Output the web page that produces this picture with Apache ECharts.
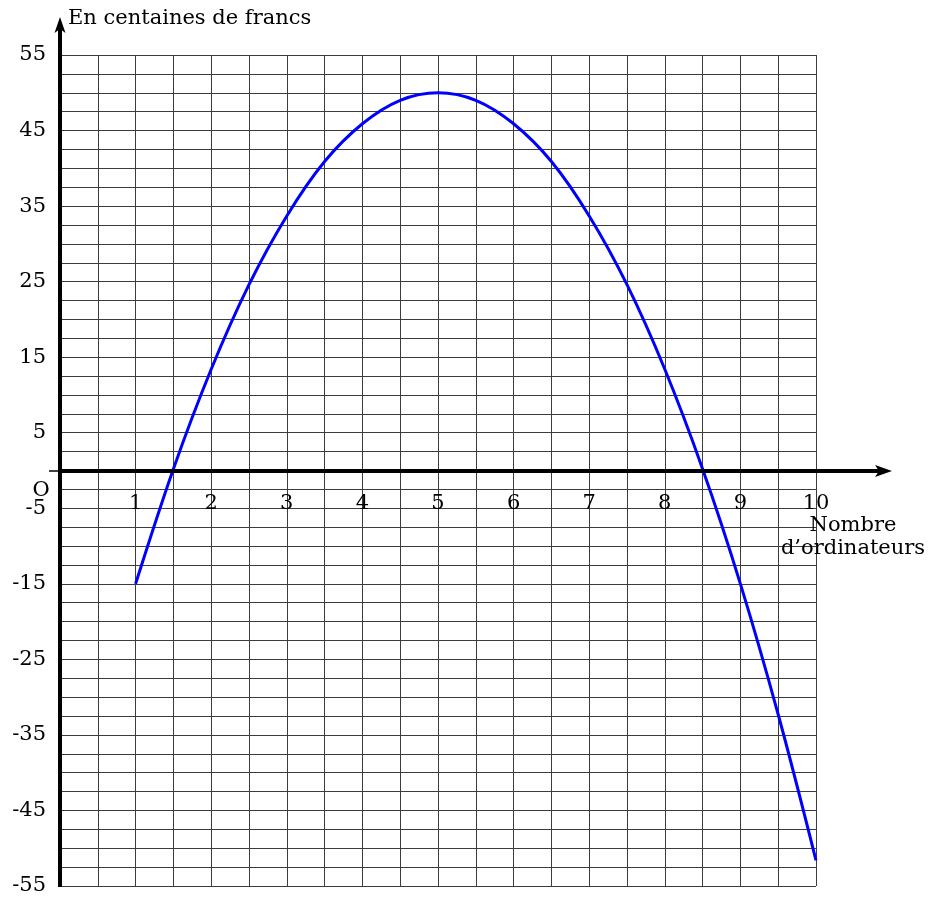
<!DOCTYPE html>
<html>
<head>
<meta charset="utf-8">
<script src="https://cdn.jsdelivr.net/npm/echarts@6/dist/echarts.min.js"></script>
<style>
  html, body { margin: 0; padding: 0; background: #fff; }
  #chart { width: 932px; height: 897px; }
</style>
</head>
<body>
<div id="chart"></div>
<script>
// Number of computers (x) and profit in hundreds of francs (y)
const xValues = [1, 1.5, 2, 2.5, 3, 3.5, 4, 4.5, 5, 5.5, 6, 6.5, 7, 7.5, 8, 8.5, 9, 9.5, 10];
const profit  = [-15, 0.2, 13.4, 24.6, 33.7, 40.9, 45.9, 49.0, 50, 49.0, 45.9, 40.9, 33.7, 24.6, 13.4, 0.2, -15, -32.3, -51.6];

// Labelled ticks on each axis
const xTickLabels = [1, 2, 3, 4, 5, 6, 7, 8, 9, 10];
const yTickLabels = [55, 45, 35, 25, 15, 5, -5, -15, -25, -35, -45, -55];

const yTitle = 'En centaines de francs';
const xTitle = ['Nombre', 'd\u2019ordinateurs'];
const originLabel = 'O';

const FONT = '"DejaVu Serif", serif';
const FS = 21;
const GRID_COLOR = '#3c3c3c';

const chart = echarts.init(document.getElementById('chart'), null, { renderer: 'canvas' });

const near = (v, list) => list.some(t => Math.abs(t - v) < 1e-6);

chart.setOption({
  animation: false,
  backgroundColor: '#fff',
  grid: { left: 60, top: 55, width: 756, height: 831, containLabel: false, outerBoundsMode: 'none' },
  xAxis: {
    type: 'value', min: 0, max: 10, interval: 0.5,
    axisLine: { show: false },
    axisTick: { show: false },
    axisLabel: { show: false },
    splitLine: { show: true, lineStyle: { color: GRID_COLOR, width: 1 } }
  },
  yAxis: {
    type: 'value', min: -55, max: 55, interval: 2.5,
    axisLine: { show: false },
    axisTick: { show: false },
    splitLine: { show: true, lineStyle: { color: GRID_COLOR, width: 1 } },
    axisLabel: {
      show: true, margin: 14, color: '#000',
      fontFamily: FONT, fontSize: FS,
      showMinLabel: true, showMaxLabel: true,
      formatter: v => near(v, yTickLabels) ? String(Math.round(v)) : ''
    }
  },
  series: [{
    type: 'line',
    data: xValues.map((x, i) => [x, profit[i]]),
    smooth: 0.35,
    showSymbol: false,
    lineStyle: { color: '#0000ff', width: 3 },
    z: 5
  }]
});

// Axes, arrowheads and texts, placed through the chart's own coordinate conversion
const origin = chart.convertToPixel({ gridIndex: 0 }, [0, 0]);
const gridBottom = chart.convertToPixel({ gridIndex: 0 }, [0, -55]);
const xEnd = chart.convertToPixel({ gridIndex: 0 }, [10, 0]);
const yTipY = 17;
const xTipX = xEnd[0] + 76;
const ax = Math.round(origin[0]);
const ay = Math.round(origin[1]);

const textStyle = (text, align) => ({
  text, font: FS + 'px ' + FONT, fill: '#000', textAlign: align, textVerticalAlign: 'middle'
});

// number labels under the horizontal axis
const xLabelEls = xTickLabels.map(v => {
  const p = chart.convertToPixel({ gridIndex: 0 }, [v, 0]);
  return { type: 'text', z: 10, x: p[0], y: p[1] + 33, style: textStyle(String(v), 'center') };
});

chart.setOption({
  graphic: [
    // vertical axis
    { type: 'line', z: 10, shape: { x1: ax, y1: gridBottom[1] + 1, x2: ax, y2: yTipY + 10 },
      style: { stroke: '#000', lineWidth: 4 } },
    { type: 'polygon', z: 10,
      shape: { points: [[ax, yTipY], [ax - 5.5, yTipY + 16], [ax, yTipY + 12], [ax + 5.5, yTipY + 16]] },
      style: { fill: '#000' } },
    // horizontal axis
    { type: 'line', z: 10, shape: { x1: ax, y1: ay, x2: xTipX - 10, y2: ay },
      style: { stroke: '#000', lineWidth: 4 } },
    { type: 'polygon', z: 10,
      shape: { points: [[xTipX, ay], [xTipX - 17, ay - 6], [xTipX - 13, ay], [xTipX - 17, ay + 6]] },
      style: { fill: '#000' } },
    // small tick left of the origin
    { type: 'line', z: 10, shape: { x1: ax - 11, y1: ay, x2: ax, y2: ay },
      style: { stroke: '#000', lineWidth: 1.5 } },
    ...xLabelEls,
    // titles
    { type: 'text', z: 10, x: ax + 8, y: 19, style: textStyle(yTitle, 'left') },
    { type: 'text', z: 10, x: ax - 19, y: ay + 20, style: textStyle(originLabel, 'center') },
    { type: 'text', z: 10, x: xEnd[0] + 37, y: ay + 55, style: textStyle(xTitle[0], 'center') },
    { type: 'text', z: 10, x: xEnd[0] + 37, y: ay + 78, style: textStyle(xTitle[1], 'center') }
  ]
});
</script>
</body>
</html>
